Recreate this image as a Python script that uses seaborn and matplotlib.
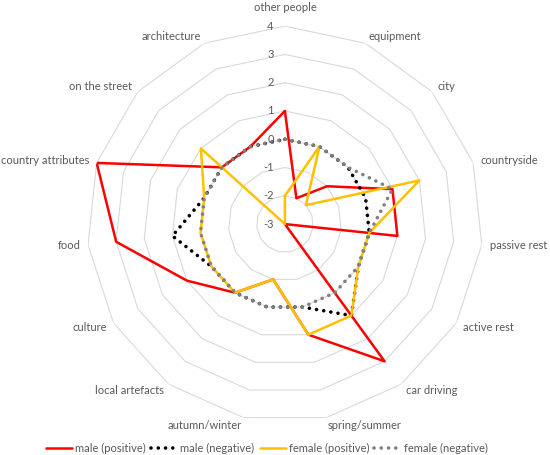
import numpy as np
import pandas as pd
import matplotlib
matplotlib.use('Agg')
import matplotlib.pyplot as plt
import seaborn as sns

# Categories around the radar, clockwise from the top
categories = ['other people', 'equipment', 'city', 'countryside', 'passive rest',
              'active rest', 'car driving', 'spring/summer', 'autumn/winter',
              'local artefacts', 'culture', 'food', 'country attributes',
              'on the street', 'architecture']

male_positive = [1, -2, -1, 1, 1, -3, 3, 1, -1, 0, 1, 3, 4, 0, 0]
male_negative = [0, 0, 0, 0, 0, 0, 1, 0, 0, 0, 0, 1, 0, 0, 0]
female_positive = [-2, 0, -2, 2, 0, 0, 1, 1, -1, 0, 0, 0, 0, 1, -3]
female_negative = [0, 0, 0, 1, 0, 0, 0, 0, 0, 0, 0, 0, 0, 0, 0]

series_names = ['male (positive)', 'male (negative)', 'female (positive)', 'female (negative)']
radial_ticks = [-3, -2, -1, 0, 1, 2, 3, 4]

sns.set_style('white')
plt.rcParams['font.family'] = ['Lato', 'DejaVu Sans']
text_color = '#595959'
fs = 8

n = len(categories)
angles = np.linspace(0, 2 * np.pi, n, endpoint=False)
closed_angles = np.append(angles, angles[0])

# Long table for seaborn, polygon closed by repeating the first point
rows = []
for name, vals in zip(series_names, [male_positive, male_negative, female_positive, female_negative]):
    closed_vals = list(vals) + [vals[0]]
    for i, (a, v) in enumerate(zip(closed_angles, closed_vals)):
        rows.append({'series': name, 'order': i, 'angle': a, 'value': v})
df = pd.DataFrame(rows)

fig = plt.figure(figsize=(5.5, 4.55), dpi=100)
ax = fig.add_axes([0.158, 0.0725, 0.72, 0.870], projection='polar')
ax.set_theta_zero_location('N')
ax.set_theta_direction(-1)
ax.set_ylim(-3, 4)
ax.grid(False)
ax.spines['polar'].set_visible(False)

# Polygon grid rings like the Excel radar chart
for level in radial_ticks[1:]:
    ax.plot(closed_angles, [level] * len(closed_angles), color='#d9d9d9', lw=0.8, zorder=1)

styles = {
    'male (positive)': dict(color='#ff0000', lw=1.8, linestyle='-'),
    'male (negative)': dict(color='#000000', lw=2.6, linestyle=(0, (0.01, 2.0)), dash_capstyle='round'),
    'female (positive)': dict(color='#ffc000', lw=1.8, linestyle='-'),
    'female (negative)': dict(color='#808080', lw=2.6, linestyle=(0, (0.01, 2.0)), dash_capstyle='round'),
}

for name in series_names:
    sub = df[df['series'] == name].sort_values('order')
    sns.lineplot(data=sub, x='angle', y='value', ax=ax, sort=False, estimator=None,
                 label=name, zorder=3, **styles[name])

ax.set_xlabel('')
ax.set_ylabel('')
ax.set_xticks([])
ax.set_yticks([])

# Radial tick labels along the top spoke
for t in radial_ticks:
    ax.annotate(str(t), xy=(0, t), xytext=(-8, 0), textcoords='offset points',
                ha='right', va='center', fontsize=fs, color=text_color)

# Category labels just outside the outer ring
for a, cat in zip(angles, categories):
    s = np.sin(a)
    if abs(s) < 0.05:
        ax.text(a, 4.67, cat, ha='center', va='center', fontsize=fs, color=text_color)
    else:
        ax.text(a, 4.28, cat, ha='left' if s > 0 else 'right', va='center',
                fontsize=fs, color=text_color)

handles, labels = ax.get_legend_handles_labels()
ax.get_legend().remove()
fig.legend(handles, labels, loc='lower center', bbox_to_anchor=(0.485, -0.02), ncol=4,
           frameon=False, handlelength=2.4, columnspacing=0.45, handletextpad=0.25,
           fontsize=fs, labelcolor=text_color)

fig.savefig('out.png', dpi=100)
